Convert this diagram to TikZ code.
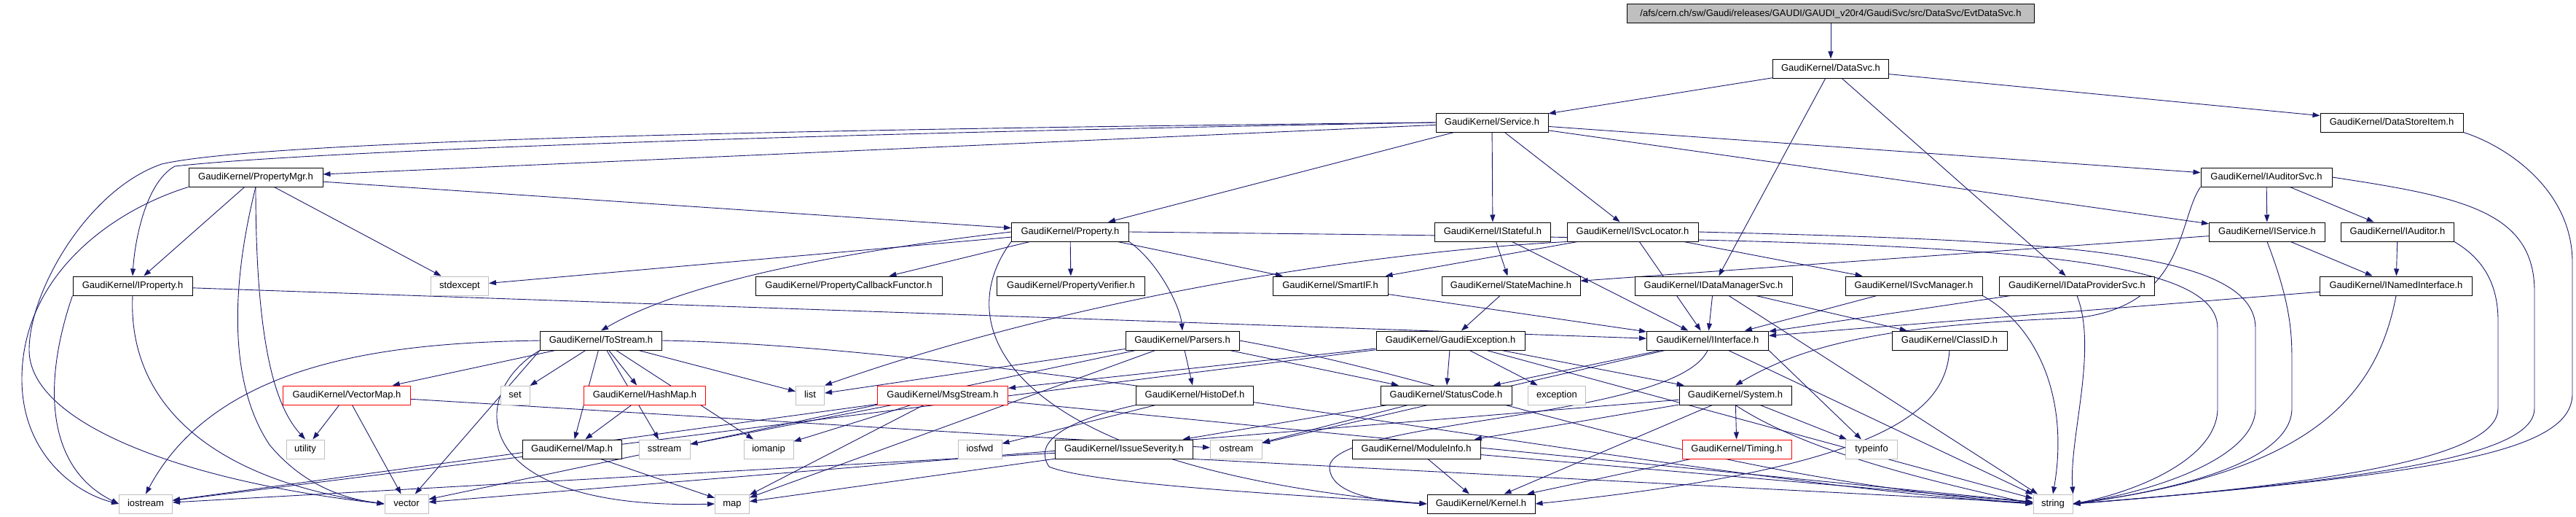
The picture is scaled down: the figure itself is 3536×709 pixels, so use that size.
\documentclass[tikz,border=0pt]{standalone}
\usepackage{fontspec}
\setmainfont{Liberation Sans}
\usetikzlibrary{arrows.meta}
\pgfdeclarelayer{edges}
\pgfsetlayers{edges,main}
\definecolor{edgeblue}{RGB}{25,25,112}
\definecolor{sysgray}{RGB}{191,191,191}
\begin{document}
\begin{tikzpicture}[x=1pt,y=-1pt,
  hdr/.style={draw=black,line width=1pt,fill=white,minimum height=26pt,inner xsep=2pt,
    text height=9.5pt,text depth=2.5pt,font=\fontsize{13pt}{15pt}\selectfont},
  rootbox/.style={hdr,fill=sysgray},
  redhdr/.style={hdr,draw=red},
  syshdr/.style={hdr,draw=sysgray},
  dep/.style={draw=edgeblue,line width=0.9pt,-{Triangle[length=10pt,width=7pt]}},
  every edge/.style={dep}]
\useasboundingbox (0,0) rectangle (3536,709);
\node[rootbox,minimum width=559pt] (root) at (2513,19) {/afs/cern.ch/sw/Gaudi/releases/GAUDI/GAUDI\_v20r4/GaudiSvc/src/DataSvc/EvtDataSvc.h};
\node[hdr,minimum width=159pt] (datasvc) at (2513,94) {GaudiKernel/DataSvc.h};
\node[hdr,minimum width=154pt] (service) at (2048,168) {GaudiKernel/Service.h};
\node[hdr,minimum width=196pt] (dsitem) at (3283,168) {GaudiKernel/DataStoreItem.h};
\node[hdr,minimum width=184pt] (propmgr) at (351,243) {GaudiKernel/PropertyMgr.h};
\node[hdr,minimum width=180pt] (auditorsvc) at (3111,243) {GaudiKernel/IAuditorSvc.h};
\node[hdr,minimum width=161pt] (property) at (1469,318) {GaudiKernel/Property.h};
\node[hdr,minimum width=159pt] (istateful) at (2049,318) {GaudiKernel/IStateful.h};
\node[hdr,minimum width=180pt] (isvcloc) at (2241,318) {GaudiKernel/ISvcLocator.h};
\node[hdr,minimum width=159pt] (iservice) at (3112,318) {GaudiKernel/IService.h};
\node[hdr,minimum width=155pt] (iauditor) at (3291,318) {GaudiKernel/IAuditor.h};
\node[hdr,minimum width=164pt] (iproperty) at (182,392) {GaudiKernel/IProperty.h};
\node[syshdr,minimum width=79pt] (stdexcept) at (631,392) {stdexcept};
\node[hdr,minimum width=256pt] (pcbf) at (1165,392) {GaudiKernel/PropertyCallbackFunctor.h};
\node[hdr,minimum width=203pt] (pverifier) at (1470,392) {GaudiKernel/PropertyVerifier.h};
\node[hdr,minimum width=158pt] (smartif) at (1826,392) {GaudiKernel/SmartIF.h};
\node[hdr,minimum width=190pt] (statemach) at (2074,392) {GaudiKernel/StateMachine.h};
\node[hdr,minimum width=216pt] (idatamgr) at (2352,392) {GaudiKernel/IDataManagerSvc.h};
\node[hdr,minimum width=188pt] (isvcmgr) at (2627,392) {GaudiKernel/ISvcManager.h};
\node[hdr,minimum width=213pt] (idataprov) at (2851,392) {GaudiKernel/IDataProviderSvc.h};
\node[hdr,minimum width=209pt] (inamed) at (3289,392) {GaudiKernel/INamedInterface.h};
\node[hdr,minimum width=167pt] (tostream) at (825,467) {GaudiKernel/ToStream.h};
\node[hdr,minimum width=156pt] (parsers) at (1623,467) {GaudiKernel/Parsers.h};
\node[hdr,minimum width=204pt] (gexcept) at (1991,467) {GaudiKernel/GaudiException.h};
\node[hdr,minimum width=167pt] (iinterface) at (2344,467) {GaudiKernel/IInterface.h};
\node[hdr,minimum width=158pt] (classid) at (2676,467) {GaudiKernel/ClassID.h};
\node[redhdr,minimum width=175pt] (vectormap) at (476,542) {GaudiKernel/VectorMap.h};
\node[syshdr,minimum width=40pt] (set) at (707,542) {set};
\node[redhdr,minimum width=167pt] (hashmap) at (885,542) {GaudiKernel/HashMap.h};
\node[syshdr,minimum width=39pt] (list) at (1112,542) {list};
\node[redhdr,minimum width=179pt] (msgstream) at (1294,542) {GaudiKernel/MsgStream.h};
\node[hdr,minimum width=161pt] (histodef) at (1640,542) {GaudiKernel/HistoDef.h};
\node[hdr,minimum width=180pt] (statuscode) at (1985,542) {GaudiKernel/StatusCode.h};
\node[syshdr,minimum width=79pt] (exception) at (2137,542) {exception};
\node[hdr,minimum width=154pt] (system) at (2382,542) {GaudiKernel/System.h};
\node[syshdr,minimum width=52pt] (utility) at (419,616) {utility};
\node[hdr,minimum width=136pt] (maph) at (785,616) {GaudiKernel/Map.h};
\node[syshdr,minimum width=70pt] (sstream) at (912,616) {sstream};
\node[syshdr,minimum width=68pt] (iomanip) at (1055,616) {iomanip};
\node[syshdr,minimum width=60pt] (iosfwd) at (1345,616) {iosfwd};
\node[hdr,minimum width=189pt] (issuesev) at (1543,616) {GaudiKernel/IssueSeverity.h};
\node[syshdr,minimum width=71pt] (ostream) at (1697,616) {ostream};
\node[hdr,minimum width=176pt] (moduleinfo) at (1944,616) {GaudiKernel/ModuleInfo.h};
\node[redhdr,minimum width=150pt] (timing) at (2384,616) {GaudiKernel/Timing.h};
\node[syshdr,minimum width=71pt] (typeinfo) at (2569,616) {typeinfo};
\node[syshdr,minimum width=73pt] (iostream) at (200,691) {iostream};
\node[syshdr,minimum width=60pt] (vector) at (558,691) {vector};
\node[syshdr,minimum width=47pt] (map) at (1005,691) {map};
\node[hdr,minimum width=148pt] (kernel) at (2033,691) {GaudiKernel/Kernel.h};
\node[syshdr,minimum width=54pt] (string) at (2818,691) {string};
\begin{pgfonlayer}{edges}
\path (root) edge (datasvc);
\path (datasvc) edge (service) edge (dsitem) edge (idatamgr) edge (idataprov);
\path (service) edge (propmgr) edge (property) edge (istateful) edge (isvcloc) edge (iservice) edge (auditorsvc);
\path (propmgr) edge (property) edge (iproperty) edge (stdexcept);
\path (auditorsvc) edge (iservice) edge (iauditor);
\path (iservice) edge (inamed) edge (statemach);
\path (iauditor) edge (inamed);
\path (inamed) edge (iinterface);
\path (property) edge (pcbf) edge (pverifier) edge (smartif) edge (stdexcept);
\path (istateful) edge (statemach) edge (iinterface);
\path (isvcloc) edge (iinterface) edge (smartif) edge (isvcmgr);
\path (iproperty) edge (iinterface);
\path (smartif) edge (iinterface);
\path (statemach) edge (gexcept);
\path (idatamgr) edge (iinterface) edge (classid) edge (string);
\path (isvcmgr) edge (iinterface);
\path (idataprov) edge (iinterface);
\path (tostream) edge (set) edge (maph) edge (hashmap) edge (sstream) edge (iomanip) edge (list) edge (vectormap);
\path (tostream.south west) edge (vector);
\path (hashmap) edge (maph);
\path (maph) edge (map);
\path (vectormap) edge (utility) edge (vector) edge (ostream);
\path (parsers) edge (histodef) edge (statuscode) edge (list) edge (vector) edge (map);
\path (gexcept) edge (statuscode) edge (exception) edge (msgstream) edge (system) edge (string) edge (iostream);
\path (statuscode) edge (issuesev) edge (ostream);
\path (iinterface) edge (statuscode) edge (ostream) edge (string);
\path (iinterface.south east) edge (typeinfo);
\path (system) edge (timing) edge (typeinfo) edge (kernel) edge (moduleinfo) edge (vector);
\path (timing) edge (kernel);
\path (moduleinfo) edge (kernel) edge (string);
\path (histodef) edge (iosfwd);
\path (msgstream) edge (iomanip) edge (sstream) edge (iostream) edge (map) edge (string);
\path (issuesev) edge (map) edge (iostream);
\path (issuesev.south east) edge (string);
\draw[dep] (dsitem.south east) .. controls (3440,200) and (3531,260) .. (3531,360) -- (3531,540) .. controls (3531,620) and (3350,650) .. (string.east);
\draw[dep] (auditorsvc.east) .. controls (3380,270) and (3479,290) .. (3479,400) -- (3479,560) .. controls (3479,620) and (3300,655) .. (string.east);
\draw[dep] (iauditor.south east) .. controls (3400,350) and (3429,380) .. (3429,440) -- (3429,560) .. controls (3429,620) and (3250,660) .. (string.east);
\draw[dep] (inamed.south) .. controls (3260,560) and (3150,650) .. (string.east);
\draw[dep] (iservice.south) .. controls (3146,420) and (3146,460) .. (3146,500) -- (3146,560) .. controls (3146,630) and (3000,670) .. (string.east);
\draw[dep] (isvcloc.east) .. controls (2800,330) and (3096,340) .. (3096,450) -- (3096,560) .. controls (3096,630) and (2950,675) .. (string.east);
\draw[dep] (property.east) .. controls (2600,330) and (3044,330) .. (3044,450) -- (3044,560) .. controls (3044,630) and (2930,675) .. (string.east);
\draw[dep] (isvcmgr.south east) .. controls (2800,450) and (2840,550) .. (string.north);
\draw[dep] (idataprov.south) .. controls (2880,480) and (2840,600) .. (string.north east);
\draw[dep] (auditorsvc.south west) .. controls (2990,300) and (3000,420) .. (2850,436) .. controls (2600,445) and (2480,470) .. (system.north);
\draw[dep] (service.west) .. controls (1000,185) and (400,210) .. (240,228) .. controls (200,250) and (185,330) .. (iproperty.north);
\draw[dep] (service.west) .. controls (1000,178) and (350,195) .. (222,225) .. controls (120,260) and (40,400) .. (40,480) .. controls (40,580) and (250,660) .. (vector.west);
\draw[dep] (propmgr.south west) .. controls (150,290) and (30,380) .. (30,520) .. controls (30,620) and (100,675) .. (iostream.west);
\draw[dep] (propmgr.south) .. controls (320,380) and (310,520) .. (370,610) .. controls (420,670) and (480,685) .. (vector.west);
\draw[dep] (propmgr.south) .. controls (351,480) and (380,560) .. (utility.north);
\draw[dep] (iproperty.south west) .. controls (60,520) and (60,640) .. (iostream.west);
\draw[dep] (iproperty.south) .. controls (175,560) and (300,660) .. (vector.west);
\draw[dep] (property.west) .. controls (1200,340) and (950,380) .. (tostream.north);
\draw[dep] (property.south east) .. controls (1590,360) and (1620,420) .. (parsers.north);
\draw[dep] (property.south west) .. controls (1300,450) and (1380,640) .. (kernel.west);
\draw[dep] (isvcloc.south west) .. controls (1900,345) and (1500,400) .. (list.north east);
\draw[dep] (tostream.west) .. controls (550,470) and (300,490) .. (iostream.north);
\draw[dep] (tostream.south west) .. controls (640,540) and (640,700) .. (map.west);
\draw[dep] (tostream.east) .. controls (1400,475) and (2300,660) .. (string.west);
\draw[dep] (parsers.east) .. controls (2000,520) and (2300,650) .. (string.west);
\draw[dep] (system.south) .. controls (2480,620) and (2650,660) .. (string.west);
\draw[dep] (classid.south) .. controls (2670,560) and (2600,640) .. (kernel.east);
\draw[dep] (iinterface.south) .. controls (2300,575) and (1830,575) .. (1825,640) .. controls (1825,680) and (1900,688) .. (kernel.west);
\draw[dep] (histodef.south west) .. controls (1450,580) and (1420,610) .. (1440,640) .. controls (1500,665) and (1800,680) .. (kernel.west);
\end{pgfonlayer}
\end{tikzpicture}
\end{document}
